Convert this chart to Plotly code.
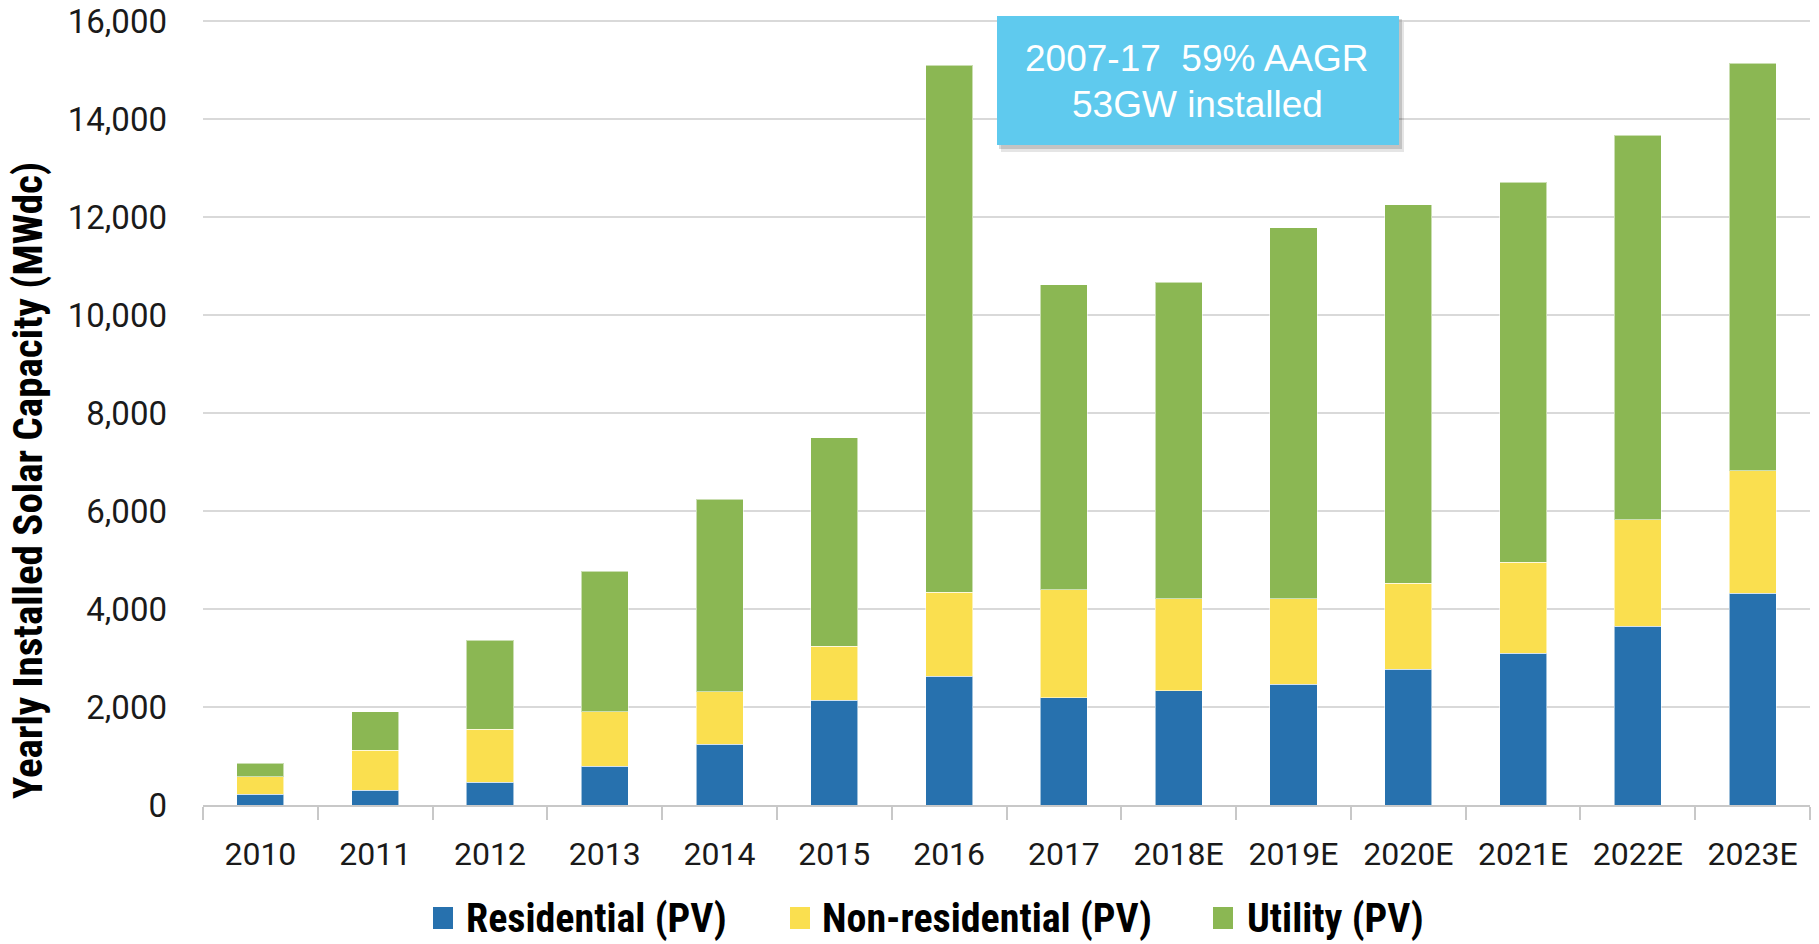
import plotly.graph_objects as go

# ---------------- data ----------------
years = ["2010", "2011", "2012", "2013", "2014", "2015", "2016", "2017",
         "2018E", "2019E", "2020E", "2021E", "2022E", "2023E"]
residential = [224, 306, 469, 796, 1245, 2140, 2630, 2190, 2330, 2465, 2766, 3094, 3645, 4326]
non_residential = [354, 816, 1082, 1104, 1065, 1095, 1712, 2207, 1875, 1740, 1756, 1862, 2172, 2495]
utility = [272, 783, 1816, 2866, 3929, 4256, 10754, 6219, 6459, 7576, 7731, 7756, 7847, 8316]

series_names = ["Residential (PV)", "Non-residential (PV)", "Utility (PV)"]
series_colors = ["#2771AE", "#FADF4F", "#8BB753"]
series_values = [residential, non_residential, utility]

y_title = "Yearly Installed Solar Capacity (MWdc)"
note_lines = ["2007-17  59% AAGR", "53GW installed"]
y_tick_top = 16000
y_dtick = 2000

# ---------------- layout (pixels) ----------------
W, H = 1819, 944
L, R = 203, 1810          # plot area left/right
Y0, YTOP = 805, 21        # pixel rows of value 0 and of the top tick
T, B = 16, 805            # plot area top/bottom (a little room above the top gridline)
y_max = y_tick_top * (B - T) / (Y0 - YTOP)


def px_x(x):
    return (x - L) / (R - L)


def px_y(y):
    return (B - y) / (B - T)


fig = go.Figure()
for name, color, vals in zip(series_names, series_colors, series_values):
    fig.add_trace(go.Bar(
        x=years, y=vals, name=name,
        marker=dict(color=color, line=dict(color="rgba(255,255,255,0.55)", width=1)),
        showlegend=False,
    ))

shapes = []
annotations = []

bold_font = "Liberation Sans Narrow, Roboto Condensed, Roboto"

# manual legend
legend_sq_x = [433, 790, 1213]
legend_txt_x = [464, 820, 1245]
leg_y_c = 918
for i, (name, color) in enumerate(zip(series_names, series_colors)):
    shapes.append(dict(type="rect", xref="paper", yref="paper",
                       x0=px_x(legend_sq_x[i]), x1=px_x(legend_sq_x[i] + 20),
                       y0=px_y(leg_y_c + 11), y1=px_y(leg_y_c - 11),
                       fillcolor=color, line=dict(width=0)))
    annotations.append(dict(xref="paper", yref="paper", x=px_x(legend_txt_x[i]), y=px_y(leg_y_c),
                            xanchor="left", yanchor="middle", showarrow=False, text=name,
                            font=dict(family=bold_font, size=40, color="#000000", weight="bold")))

# callout box with shadow
shapes.append(dict(type="rect", xref="paper", yref="paper",
                   x0=px_x(1001), x1=px_x(1404), y0=px_y(152), y1=px_y(22),
                   fillcolor="rgba(0,0,0,0.10)", line=dict(width=0), layer="above"))
shapes.append(dict(type="rect", xref="paper", yref="paper",
                   x0=px_x(999), x1=px_x(1402), y0=px_y(149), y1=px_y(19),
                   fillcolor="rgba(0,0,0,0.15)", line=dict(width=0), layer="above"))
shapes.append(dict(type="rect", xref="paper", yref="paper",
                   x0=px_x(997), x1=px_x(1399), y0=px_y(145), y1=px_y(16),
                   fillcolor="#5FCAEE", line=dict(width=0), layer="above"))
for ln, yc in zip(note_lines, [59, 104]):
    annotations.append(dict(xref="paper", yref="paper", x=px_x(1197), y=px_y(yc),
                            xanchor="center", yanchor="middle", showarrow=False, text=ln,
                            font=dict(family="Liberation Sans, Arial", size=37, color="#FFFFFF")))

# y-axis title
annotations.append(dict(xref="paper", yref="paper", x=px_x(28), y=px_y(481),
                        xanchor="center", yanchor="middle", showarrow=False, text=y_title,
                        textangle=-90,
                        font=dict(family=bold_font, size=41, color="#000000", weight="bold")))

fig.update_layout(
    width=W, height=H,
    barmode="stack", bargap=0.59,
    plot_bgcolor="white", paper_bgcolor="white",
    margin=dict(l=L, r=W - R, t=T, b=H - B, pad=0, autoexpand=False),
    shapes=shapes, annotations=annotations,
    showlegend=False,
)
fig.update_xaxes(
    type="category", tickson="boundaries", ticks="outside", ticklen=13,
    tickcolor="#C8C8C8", tickwidth=1.5, showline=True, linecolor="#C8C8C8", linewidth=1.5,
    showgrid=False, tickfont=dict(family="Roboto", size=32, color="#1A1A1A"),
    ticklabelstandoff=20, automargin=False,
)
fig.update_yaxes(
    range=[0, y_max], tick0=0, dtick=y_dtick, tickformat=",d", showgrid=True,
    gridcolor="#D9D9D9", gridwidth=2, zeroline=False, showline=False, ticks="",
    tickfont=dict(family="Roboto", size=33, color="#1A1A1A"), ticklabelstandoff=35,
    automargin=False, ticklabeloverflow="allow",
)

fig.write_html("out.html", config={"displayModeBar": False},
               post_script="document.body.style.margin='0px';")
